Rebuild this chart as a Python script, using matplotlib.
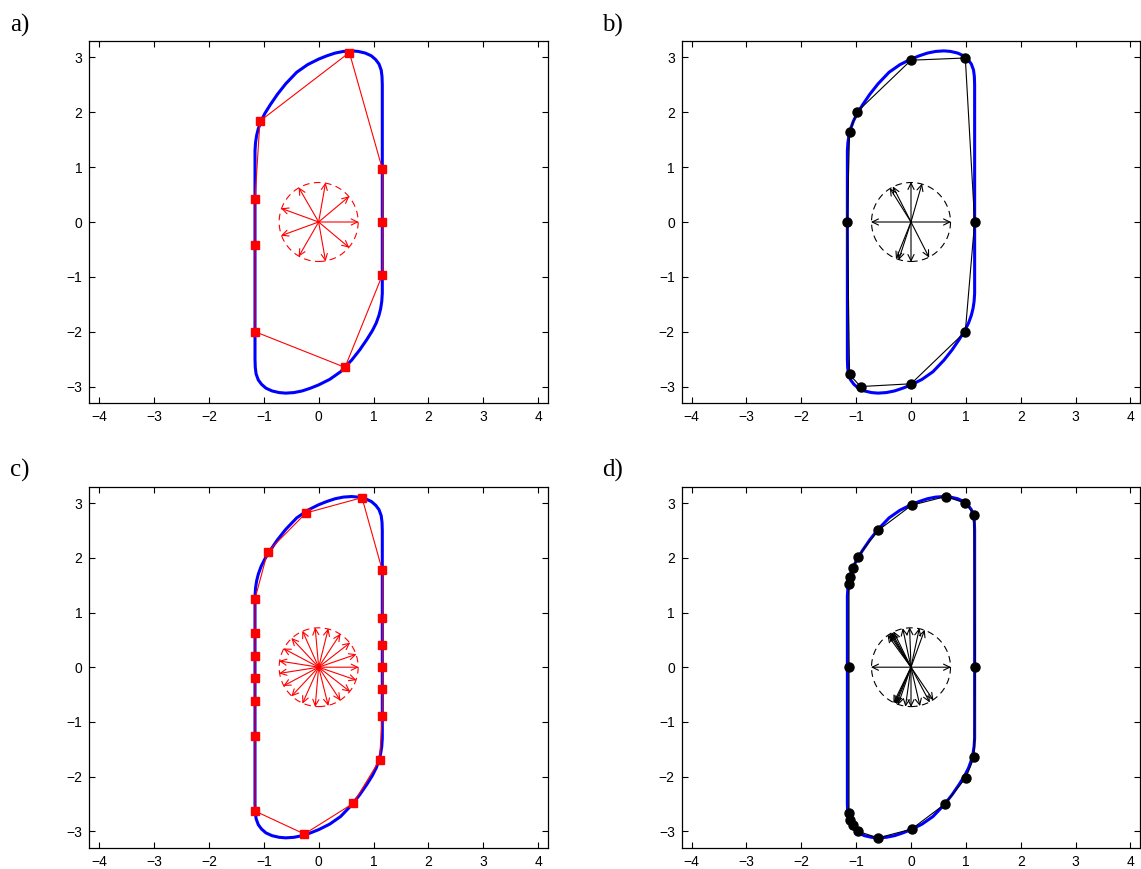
import matplotlib

matplotlib.use("Agg")
import matplotlib.pyplot as plt
import numpy as np
from matplotlib.patches import Circle

# boundary of the set (counter-clockwise, starting on the right side)
boundary = [
    (1.16, 0.00), (1.16, 1.50), (1.16, 2.50), (1.155, 2.65), (1.14, 2.77),
    (1.10, 2.88), (1.04, 2.96), (0.96, 3.03), (0.85, 3.08), (0.72, 3.11),
    (0.60, 3.12), (0.45, 3.11), (0.30, 3.08), (0.15, 3.03), (0.00, 2.97),
    (-0.20, 2.87), (-0.40, 2.73), (-0.60, 2.52), (-0.75, 2.33), (-0.88, 2.14),
    (-0.98, 1.98), (-1.05, 1.84), (-1.10, 1.70), (-1.13, 1.58), (-1.15, 1.45),
    (-1.16, 1.30), (-1.16, 0.00), (-1.16, -1.50), (-1.16, -2.50), (-1.155, -2.65),
    (-1.14, -2.77), (-1.10, -2.88), (-1.04, -2.96), (-0.96, -3.03), (-0.85, -3.08),
    (-0.72, -3.11), (-0.60, -3.12), (-0.45, -3.11), (-0.30, -3.08), (-0.15, -3.03),
    (0.00, -2.97), (0.20, -2.87), (0.40, -2.73), (0.60, -2.52), (0.75, -2.33),
    (0.88, -2.14), (0.98, -1.98), (1.05, -1.84), (1.10, -1.70), (1.13, -1.58),
    (1.15, -1.45), (1.16, -1.30), (1.16, 0.00),
]

# a) polygon vertices and directions
pts_a = [(0.56, 3.09), (1.16, 0.97), (1.16, 0.00), (1.16, -0.97), (0.48, -2.65),
         (-1.16, -2.00), (-1.16, -0.42), (-1.16, 0.42), (-1.07, 1.84)]
dirs_a = [0, 40, 80, 120, 160, 200, 240, 280, 320]

# b)
pts_b = [(0.00, 2.95), (0.99, 2.99), (1.16, 0.00), (0.99, -2.00), (0.00, -2.95),
         (-0.92, -3.00), (-1.12, -2.78), (-1.16, 0.00), (-1.12, 1.65), (-0.98, 2.01)]
dirs_b = [0, 74, 90, 117, 122, 180, 248, 252, 270, 297]

# c)
pts_c = [(0.79, 3.10), (-0.23, 2.82), (-0.93, 2.11), (-1.16, 1.25), (-1.16, 0.63),
         (-1.16, 0.20), (-1.16, -0.20), (-1.16, -0.62), (-1.16, -1.25), (-1.16, -2.63),
         (-0.26, -3.05), (0.63, -2.49), (1.11, -1.70), (1.16, -0.89), (1.16, -0.40),
         (1.16, 0.00), (1.16, 0.40), (1.16, 0.90), (1.16, 1.77)]
dirs_c = [0, 19, 38, 57, 76, 95, 114, 133, 152, 171, 189, 208, 227, 246, 265,
          284, 303, 322, 341]

# d)
pts_d = [(0.63, 3.12), (0.99, 3.00), (1.15, 2.79), (1.17, 0.00), (1.15, -1.65),
         (1.00, -2.02), (0.62, -2.50), (0.01, -2.96), (-0.60, -3.12), (-0.97, -3.00),
         (-1.06, -2.89), (-1.11, -2.80), (-1.13, -2.67), (-1.13, 0.00), (-1.13, 1.53),
         (-1.11, 1.65), (-1.06, 1.82), (-0.97, 2.02), (-0.60, 2.50), (0.01, 2.96)]
dirs_d = [0, 70, 78, 92, 102, 116, 119, 121, 123, 126, 180, 244, 246, 248, 251,
          262, 270, 283, 298, 304]

panel_labels = ["a)", "b)", "c)", "d)"]
xticks = [-4, -3, -2, -1, 0, 1, 2, 3, 4]
yticks = [-3, -2, -1, 0, 1, 2, 3]

RADIUS = 0.72
ARROW_LEN = 0.73

plt.rcParams["font.family"] = ["Liberation Sans", "DejaVu Sans"]
fig = plt.figure(figsize=(11.41, 8.69), dpi=100)

W, H = 1141.0, 869.0
boxes = [
    (89.3, 41.0, 548.0, 403.0),
    (681.7, 41.0, 1140.3, 403.0),
    (89.3, 486.7, 548.0, 847.7),
    (681.7, 486.7, 1140.3, 847.7),
]
label_pos = [(10, 32), (602, 32), (10, 477), (602, 477)]

panels = [
    (pts_a, dirs_a, "red", "s", 5.5),
    (pts_b, dirs_b, "black", "o", 6.5),
    (pts_c, dirs_c, "red", "s", 5.5),
    (pts_d, dirs_d, "black", "o", 6.5),
]

bx, by = np.array(boundary).T

for k, (pts, dirs, col, mk, ms) in enumerate(panels):
    x0, y0, x1, y1 = boxes[k]
    ax = fig.add_axes([x0 / W, 1 - y1 / H, (x1 - x0) / W, (y1 - y0) / H])
    ax.plot(bx, by, color=(0, 0, 1), lw=2.2, zorder=2)

    px, py = np.array(pts).T
    px = np.append(px, px[0])
    py = np.append(py, py[0])
    ax.plot(px, py, color=col, lw=0.8, zorder=3)
    ax.plot(px[:-1], py[:-1], ls="none", marker=mk, ms=ms, color=col,
            markeredgecolor=col, zorder=4)

    ax.add_patch(Circle((0, 0), RADIUS, fill=False, ec=col, lw=0.8,
                        ls=(0, (6, 4)), zorder=3))
    for d in dirs:
        t = np.deg2rad(d)
        ax.annotate("", xy=(ARROW_LEN * np.cos(t), ARROW_LEN * np.sin(t)),
                    xytext=(0, 0),
                    arrowprops=dict(arrowstyle="->,head_length=0.45,head_width=0.22",
                                    color=col, lw=0.8, shrinkA=0, shrinkB=0),
                    zorder=3)

    ax.set_xlim(-4.18, 4.18)
    ax.set_ylim(-3.3, 3.3)
    ax.set_xticks(xticks)
    ax.set_yticks(yticks)
    ax.tick_params(direction="in", length=4, width=0.8, top=True, right=True,
                   labelsize=10, pad=5)
    for s in ax.spines.values():
        s.set_linewidth(0.9)

    lx, ly = label_pos[k]
    fig.text(lx / W, 1 - ly / H, panel_labels[k], family="Liberation Serif",
             fontsize=18, ha="left", va="baseline")

fig.savefig("out.png", dpi=100)
